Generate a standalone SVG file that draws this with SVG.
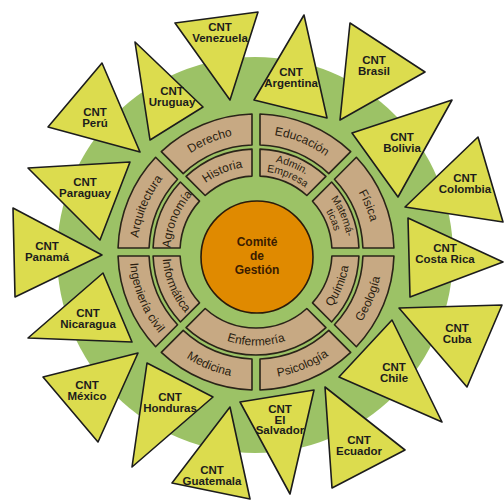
<svg xmlns="http://www.w3.org/2000/svg" width="504" height="501" viewBox="0 0 504 501">
<style>
.tri{fill:#dcdc4e;stroke:#1c1c1c;stroke-width:1.6;stroke-linejoin:round}
.tl{font-family:"Liberation Sans",Arial,sans-serif;font-weight:bold;font-size:11.5px;fill:#1c1c1c;text-anchor:middle}
.seg{fill:#c7a983;stroke:#2a2418;stroke-width:1.6;stroke-linejoin:round}
.rl{font-family:"Liberation Sans",Arial,sans-serif;font-size:12px;fill:#2a1d10;text-anchor:middle}
.rs{font-family:"Liberation Sans",Arial,sans-serif;font-size:10.5px;fill:#2a1d10;text-anchor:middle}
.ct{font-family:"Liberation Sans",Arial,sans-serif;font-weight:bold;font-size:12px;fill:#3a1c00;text-anchor:middle}
</style>
<defs>
<path id="so" d="M137.94,4 A138,138 0 0 1 100.37,94.71 L78.44,72.78 A107,107 0 0 0 106.93,4 Z"/>
<path id="si" d="M102.92,4 A103,103 0 0 1 75.60,69.95 L56.49,50.84 A76,76 0 0 0 75.89,4 Z"/>
<path id="si90" d="M69.95,75.60 A103,103 0 0 1 -69.95,75.60 L-50.84,56.49 A76,76 0 0 0 50.84,56.49 Z"/>
<path id="cwO" d="M90.77,-76.17 A118.5,118.5 0 0 1 90.77,76.17"/>
<path id="ccwO" d="M96.90,81.31 A126.5,126.5 0 0 0 96.90,-81.31"/>
<path id="cwI" d="M65.49,-54.96 A85.5,85.5 0 0 1 65.49,54.96"/>
<path id="ccwI" d="M71.62,60.10 A93.5,93.5 0 0 0 71.62,-60.10"/>
<path id="cwI1" d="M70.47,-59.14 A92,92 0 0 1 70.47,59.14"/>
<path id="cwI2" d="M62.05,-52.07 A81,81 0 0 1 62.05,52.07"/>
</defs>

<circle id="background-disk" cx="255" cy="255" r="198" fill="#9cc266"/>

<g id="connectors"></g>

<g id="cnt-venezuela"><polygon class="tri" points="175,23 258,12 230,100"/><text class="tl" x="220" y="31">CNT</text><text class="tl" x="220" y="42">Venezuela</text></g>
<g id="cnt-argentina"><polygon class="tri" points="304,15 327,118 254,100"/><text class="tl" x="291" y="76">CNT</text><text class="tl" x="291" y="87">Argentina</text></g>
<g id="cnt-brasil"><polygon class="tri" points="350,23 425,72 340,120"/><text class="tl" x="374" y="64">CNT</text><text class="tl" x="374" y="75">Brasil</text></g>
<g id="cnt-bolivia"><polygon class="tri" points="352,133 452,100 398,197"/><text class="tl" x="402" y="141">CNT</text><text class="tl" x="402" y="152">Bolivia</text></g>
<g id="cnt-colombia"><polygon class="tri" points="478,137 503,222 405,207"/><text class="tl" x="465" y="182">CNT</text><text class="tl" x="465" y="193">Colombia</text></g>
<g id="cnt-costa-rica"><polygon class="tri" points="408,218 503,262 410,297"/><text class="tl" x="445" y="252">CNT</text><text class="tl" x="445" y="263">Costa Rica</text></g>
<g id="cnt-cuba"><polygon class="tri" points="399,308 502,305 467,387"/><text class="tl" x="457" y="332">CNT</text><text class="tl" x="457" y="343">Cuba</text></g>
<g id="cnt-chile"><polygon class="tri" points="339,377 392,320 442,422"/><text class="tl" x="394" y="371">CNT</text><text class="tl" x="394" y="382">Chile</text></g>
<g id="cnt-ecuador"><polygon class="tri" points="325,387 405,450 332,488"/><text class="tl" x="359" y="444">CNT</text><text class="tl" x="359" y="455">Ecuador</text></g>
<g id="cnt-el-salvador"><polygon class="tri" points="240,402 314,390 290,494"/><text class="tl" x="280" y="413">CNT</text><text class="tl" x="280" y="423.5">El</text><text class="tl" x="280" y="434">Salvador</text></g>
<g id="cnt-guatemala"><polygon class="tri" points="230,407 172,483 250,499"/><text class="tl" x="212" y="474">CNT</text><text class="tl" x="212" y="485">Guatemala</text></g>
<g id="cnt-honduras"><polygon class="tri" points="147,363 213,397 132,467"/><text class="tl" x="170" y="401">CNT</text><text class="tl" x="170" y="412">Honduras</text></g>
<g id="cnt-mexico"><polygon class="tri" points="43,377 138,353 98,442"/><text class="tl" x="87" y="389">CNT</text><text class="tl" x="87" y="400">México</text></g>
<g id="cnt-nicaragua"><polygon class="tri" points="28,338 103,273 132,342"/><text class="tl" x="88" y="317">CNT</text><text class="tl" x="88" y="328">Nicaragua</text></g>
<g id="cnt-panama"><polygon class="tri" points="13,208 102,255 15,297"/><text class="tl" x="47" y="250">CNT</text><text class="tl" x="47" y="261">Panamá</text></g>
<g id="cnt-paraguay"><polygon class="tri" points="28,168 130,162 100,240"/><text class="tl" x="85" y="186">CNT</text><text class="tl" x="85" y="197">Paraguay</text></g>
<g id="cnt-peru"><polygon class="tri" points="102,63 48,127 140,152"/><text class="tl" x="95" y="116">CNT</text><text class="tl" x="95" y="127">Perú</text></g>
<g id="cnt-uruguay"><polygon class="tri" points="135,42 203,107 150,140"/><text class="tl" x="172" y="95">CNT</text><text class="tl" x="172" y="106">Uruguay</text></g>

<g id="fisica"><use href="#so" class="seg" transform="translate(256,252) rotate(-45)"/><text class="rl" transform="translate(256,252) rotate(-22.5)"><textPath href="#cwO" startOffset="50%">Física</textPath></text></g>
<g id="geologia"><use href="#so" class="seg" transform="translate(256,252)"/><text class="rl" transform="translate(256,252) rotate(22.5)"><textPath href="#ccwO" startOffset="50%">Geología</textPath></text></g>
<g id="psicologia"><use href="#so" class="seg" transform="translate(256,252) rotate(45)"/><text class="rl" transform="translate(256,252) rotate(67.5)"><textPath href="#ccwO" startOffset="50%">Psicología</textPath></text></g>
<g id="medicina"><use href="#so" class="seg" transform="translate(256,252) rotate(90)"/><text class="rl" transform="translate(256,252) rotate(112.5)"><textPath href="#ccwO" startOffset="50%">Medicina</textPath></text></g>
<g id="ingenieria-civil"><use href="#so" class="seg" transform="translate(256,252) rotate(135)"/><text class="rl" transform="translate(256,252) rotate(157.5)"><textPath href="#ccwO" startOffset="50%">Ingeniería civil</textPath></text></g>
<g id="arquitectura"><use href="#so" class="seg" transform="translate(256,252) rotate(180)"/><text class="rl" transform="translate(256,252) rotate(202.5)"><textPath href="#cwO" startOffset="50%">Arquitectura</textPath></text></g>
<g id="derecho"><use href="#so" class="seg" transform="translate(256,252) rotate(225)"/><text class="rl" transform="translate(256,252) rotate(247.5)"><textPath href="#cwO" startOffset="50%">Derecho</textPath></text></g>
<g id="educacion"><use href="#so" class="seg" transform="translate(256,252) rotate(270)"/><text class="rl" transform="translate(256,252) rotate(292.5)"><textPath href="#cwO" startOffset="50%">Educación</textPath></text></g>

<g id="matematicas"><use href="#si" class="seg" transform="translate(256,252) rotate(-45)"/><text class="rs" transform="translate(256,252) rotate(-22.5)"><textPath href="#cwI1" startOffset="50%">Matemá-</textPath></text><text class="rs" transform="translate(256,252) rotate(-22.5)"><textPath href="#cwI2" startOffset="50%">ticas</textPath></text></g>
<g id="quimica"><use href="#si" class="seg" transform="translate(256,252)"/><text class="rl" transform="translate(256,252) rotate(22.5)"><textPath href="#ccwI" startOffset="50%">Química</textPath></text></g>
<g id="enfermeria"><use href="#si90" class="seg" transform="translate(256,252)"/><text class="rl" transform="translate(256,252) rotate(90)"><textPath href="#ccwI" startOffset="50%">Enfermería</textPath></text></g>
<g id="informatica"><use href="#si" class="seg" transform="translate(256,252) rotate(135)"/><text class="rl" transform="translate(256,252) rotate(157.5)"><textPath href="#ccwI" startOffset="50%">Informática</textPath></text></g>
<g id="agronomia"><use href="#si" class="seg" transform="translate(256,252) rotate(180)"/><text class="rl" transform="translate(256,252) rotate(202.5)"><textPath href="#cwI" startOffset="50%">Agronomía</textPath></text></g>
<g id="historia"><use href="#si" class="seg" transform="translate(256,252) rotate(225)"/><text class="rl" transform="translate(256,252) rotate(247.5)"><textPath href="#cwI" startOffset="50%">Historia</textPath></text></g>
<g id="admin-empresa"><use href="#si" class="seg" transform="translate(256,252) rotate(270)"/><text class="rs" transform="translate(256,252) rotate(292.5)"><textPath href="#cwI1" startOffset="50%">Admin.</textPath></text><text class="rs" transform="translate(256,252) rotate(292.5)"><textPath href="#cwI2" startOffset="50%">Empresa</textPath></text></g>

<g id="comite-de-gestion"><circle cx="257" cy="257" r="56" fill="#e08a00" stroke="#2a1a0a" stroke-width="1.6"/><text class="ct" x="257" y="246">Comité</text><text class="ct" x="257" y="260">de</text><text class="ct" x="257" y="274">Gestión</text></g>
</svg>
